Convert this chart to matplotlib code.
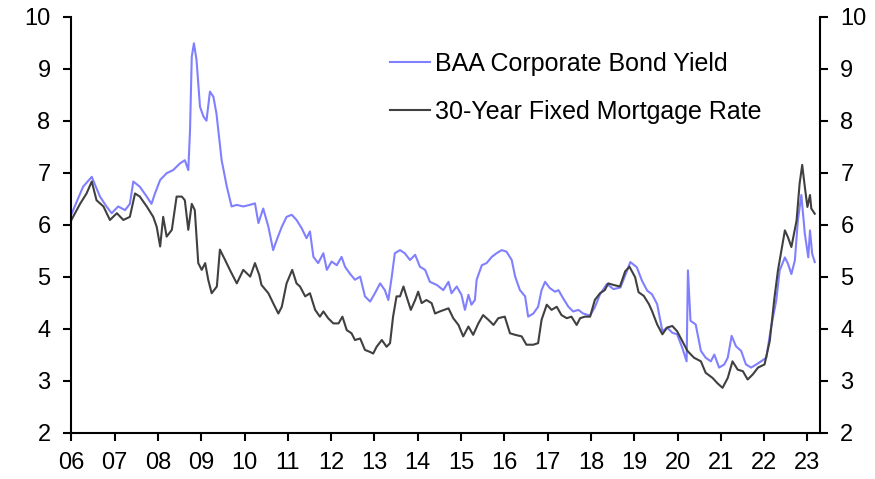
import matplotlib
matplotlib.use("Agg")
import matplotlib.pyplot as plt

plt.rcParams['font.family'] = ['Liberation Sans', 'DejaVu Sans']

# BAA corporate bond yield (%)
baa_t = [2006.00, 2006.27, 2006.47, 2006.66, 2006.81, 2006.93, 2007.08, 2007.24, 2007.35, 2007.43,
         2007.58, 2007.74, 2007.85, 2007.93, 2008.05, 2008.20, 2008.35, 2008.51, 2008.62, 2008.70,
         2008.74, 2008.78, 2008.83, 2008.89, 2008.97, 2009.05, 2009.12, 2009.20, 2009.28, 2009.35,
         2009.47, 2009.59, 2009.70, 2009.82, 2009.97, 2010.12, 2010.24, 2010.32, 2010.43, 2010.55,
         2010.66, 2010.74, 2010.86, 2010.97, 2011.09, 2011.20, 2011.32, 2011.43, 2011.51, 2011.59,
         2011.70, 2011.82, 2011.90, 2012.01, 2012.13, 2012.24, 2012.32, 2012.43, 2012.55, 2012.67,
         2012.78, 2012.90, 2013.01, 2013.13, 2013.24, 2013.32, 2013.40, 2013.47, 2013.59, 2013.70,
         2013.82, 2013.94, 2014.05, 2014.17, 2014.28, 2014.44, 2014.59, 2014.71, 2014.78, 2014.90,
         2015.01, 2015.09, 2015.17, 2015.24, 2015.32, 2015.36, 2015.48, 2015.59, 2015.71, 2015.82,
         2015.94, 2016.05, 2016.17, 2016.25, 2016.36, 2016.48, 2016.55, 2016.67, 2016.78, 2016.86,
         2016.94, 2017.05, 2017.17, 2017.25, 2017.36, 2017.48, 2017.59, 2017.71, 2017.82, 2017.94,
         2017.98, 2018.09, 2018.21, 2018.37, 2018.52, 2018.68, 2018.79, 2018.91, 2019.06, 2019.18,
         2019.30, 2019.41, 2019.53, 2019.65, 2019.76, 2019.88, 2019.99, 2020.11, 2020.21, 2020.24,
         2020.30, 2020.42, 2020.54, 2020.65, 2020.77, 2020.85, 2020.96, 2021.08, 2021.16, 2021.25,
         2021.35, 2021.47, 2021.58, 2021.70, 2021.82, 2021.93, 2022.05, 2022.16, 2022.28, 2022.36,
         2022.48, 2022.55, 2022.63, 2022.71, 2022.78, 2022.86, 2022.94, 2023.02, 2023.06, 2023.11,
         2023.17]
baa_v = [6.20, 6.73, 6.92, 6.54, 6.35, 6.22, 6.35, 6.28, 6.40, 6.83,
         6.73, 6.54, 6.40, 6.60, 6.86, 6.99, 7.05, 7.18, 7.24, 7.05,
         7.82, 9.23, 9.49, 9.17, 8.27, 8.08, 8.00, 8.56, 8.46, 8.14,
         7.24, 6.73, 6.35, 6.38, 6.35, 6.38, 6.41, 6.03, 6.31, 5.96,
         5.51, 5.70, 5.96, 6.15, 6.19, 6.09, 5.93, 5.74, 5.87, 5.38,
         5.26, 5.45, 5.13, 5.29, 5.22, 5.38, 5.19, 5.06, 4.94, 5.00,
         4.62, 4.52, 4.68, 4.87, 4.74, 4.55, 5.00, 5.45, 5.51, 5.45,
         5.32, 5.42, 5.19, 5.13, 4.90, 4.84, 4.74, 4.90, 4.68, 4.81,
         4.65, 4.36, 4.65, 4.46, 4.55, 4.94, 5.22, 5.26, 5.38, 5.45,
         5.51, 5.48, 5.32, 5.00, 4.74, 4.62, 4.23, 4.29, 4.42, 4.74,
         4.90, 4.78, 4.71, 4.74, 4.58, 4.42, 4.33, 4.36, 4.29, 4.26,
         4.25, 4.41, 4.66, 4.86, 4.76, 4.79, 5.02, 5.28, 5.18, 4.92,
         4.73, 4.66, 4.47, 3.95, 4.02, 3.92, 3.89, 3.63, 3.37, 5.12,
         4.15, 4.08, 3.57, 3.44, 3.37, 3.50, 3.25, 3.31, 3.44, 3.86,
         3.66, 3.57, 3.31, 3.25, 3.31, 3.37, 3.44, 4.02, 4.54, 5.12,
         5.37, 5.25, 5.05, 5.31, 6.08, 6.57, 5.83, 5.37, 5.89, 5.44,
         5.28]

# 30-year fixed mortgage rate (%)
mtg_t = [2006.00, 2006.20, 2006.35, 2006.47, 2006.58, 2006.74, 2006.89, 2007.05, 2007.20, 2007.35,
         2007.47, 2007.58, 2007.74, 2007.89, 2007.97, 2008.05, 2008.12, 2008.20, 2008.32, 2008.43,
         2008.55, 2008.62, 2008.70, 2008.78, 2008.85, 2008.93, 2009.01, 2009.09, 2009.16, 2009.24,
         2009.36, 2009.43, 2009.55, 2009.66, 2009.82, 2009.97, 2010.13, 2010.24, 2010.34, 2010.39,
         2010.55, 2010.66, 2010.78, 2010.86, 2010.97, 2011.10, 2011.20, 2011.28, 2011.40, 2011.51,
         2011.63, 2011.74, 2011.82, 2011.93, 2012.05, 2012.17, 2012.26, 2012.36, 2012.47, 2012.55,
         2012.67, 2012.78, 2012.90, 2012.97, 2013.05, 2013.17, 2013.28, 2013.36, 2013.43, 2013.51,
         2013.59, 2013.67, 2013.74, 2013.84, 2013.94, 2014.01, 2014.09, 2014.20, 2014.32, 2014.40,
         2014.51, 2014.61, 2014.71, 2014.82, 2014.94, 2015.05, 2015.17, 2015.28, 2015.40, 2015.51,
         2015.63, 2015.75, 2015.86, 2016.01, 2016.13, 2016.25, 2016.40, 2016.51, 2016.67, 2016.78,
         2016.86, 2016.98, 2017.09, 2017.21, 2017.32, 2017.44, 2017.55, 2017.67, 2017.75, 2017.86,
         2017.98, 2018.09, 2018.21, 2018.32, 2018.40, 2018.52, 2018.67, 2018.79, 2018.89, 2019.02,
         2019.10, 2019.22, 2019.34, 2019.41, 2019.53, 2019.65, 2019.76, 2019.88, 2019.99, 2020.11,
         2020.23, 2020.38, 2020.54, 2020.65, 2020.81, 2020.92, 2021.04, 2021.16, 2021.27, 2021.39,
         2021.51, 2021.62, 2021.74, 2021.86, 2022.01, 2022.13, 2022.24, 2022.32, 2022.40, 2022.48,
         2022.55, 2022.63, 2022.75, 2022.82, 2022.88, 2022.94, 2023.00, 2023.06, 2023.09, 2023.17]
mtg_v = [6.09, 6.40, 6.60, 6.83, 6.47, 6.35, 6.09, 6.22, 6.09, 6.15,
         6.60, 6.54, 6.35, 6.15, 5.96, 5.58, 6.15, 5.77, 5.90, 6.54,
         6.54, 6.47, 5.90, 6.40, 6.28, 5.26, 5.13, 5.26, 4.94, 4.68,
         4.81, 5.52, 5.32, 5.13, 4.87, 5.13, 5.00, 5.26, 5.03, 4.84,
         4.68, 4.49, 4.29, 4.42, 4.87, 5.13, 4.87, 4.81, 4.62, 4.68,
         4.36, 4.23, 4.33, 4.20, 4.10, 4.10, 4.23, 3.97, 3.91, 3.78,
         3.81, 3.59, 3.55, 3.52, 3.65, 3.78, 3.65, 3.72, 4.23, 4.62,
         4.62, 4.81, 4.62, 4.36, 4.55, 4.71, 4.49, 4.55, 4.49, 4.29,
         4.33, 4.36, 4.39, 4.20, 4.07, 3.85, 4.04, 3.88, 4.10, 4.26,
         4.17, 4.07, 4.20, 4.23, 3.91, 3.88, 3.85, 3.69, 3.69, 3.72,
         4.17, 4.46, 4.36, 4.42, 4.26, 4.20, 4.23, 4.07, 4.20, 4.23,
         4.23, 4.55, 4.68, 4.74, 4.87, 4.84, 4.81, 5.10, 5.19, 4.99,
         4.70, 4.63, 4.47, 4.34, 4.08, 3.89, 4.02, 4.05, 3.95, 3.76,
         3.57, 3.44, 3.37, 3.15, 3.05, 2.95, 2.86, 3.05, 3.37, 3.21,
         3.18, 3.02, 3.12, 3.25, 3.31, 3.76, 4.60, 5.12, 5.50, 5.89,
         5.76, 5.57, 6.08, 6.79, 7.15, 6.73, 6.34, 6.57, 6.31, 6.21]

years = list(range(2006, 2024))
year_labels = ["%02d" % (y % 100) for y in years]
yticks = list(range(2, 11))

fig = plt.figure(figsize=(8.75, 4.79), dpi=100)
ax = fig.add_axes([0.0816, 0.097, 0.855, 0.868])

ax.plot(baa_t, baa_v, color="#8080ff", lw=1.5, label="BAA Corporate Bond Yield")
ax.plot(mtg_t, mtg_v, color="#404040", lw=1.5, label="30-Year Fixed Mortgage Rate")

ax.set_xlim(2006, 2023.28)
ax.set_ylim(2, 10)
ax.set_xticks(years)
ax.set_xticklabels(year_labels)
ax.set_yticks(yticks)

for s in ["left", "right", "bottom"]:
    ax.spines[s].set_linewidth(1.5)
ax.spines["top"].set_visible(False)
ax.tick_params(axis="both", direction="out", length=6, width=1.5, labelsize=17)
ax.tick_params(axis="y", left=True, right=True, labelleft=True, labelright=True, pad=9)
ax.tick_params(axis="x", pad=8)

ax.legend(loc="upper left", bbox_to_anchor=(0.4126, 0.939), frameon=False, fontsize=18,
          handlelength=1.6, handletextpad=0.2, labelspacing=0.95, borderaxespad=0)

fig.savefig("out.png", dpi=100)
